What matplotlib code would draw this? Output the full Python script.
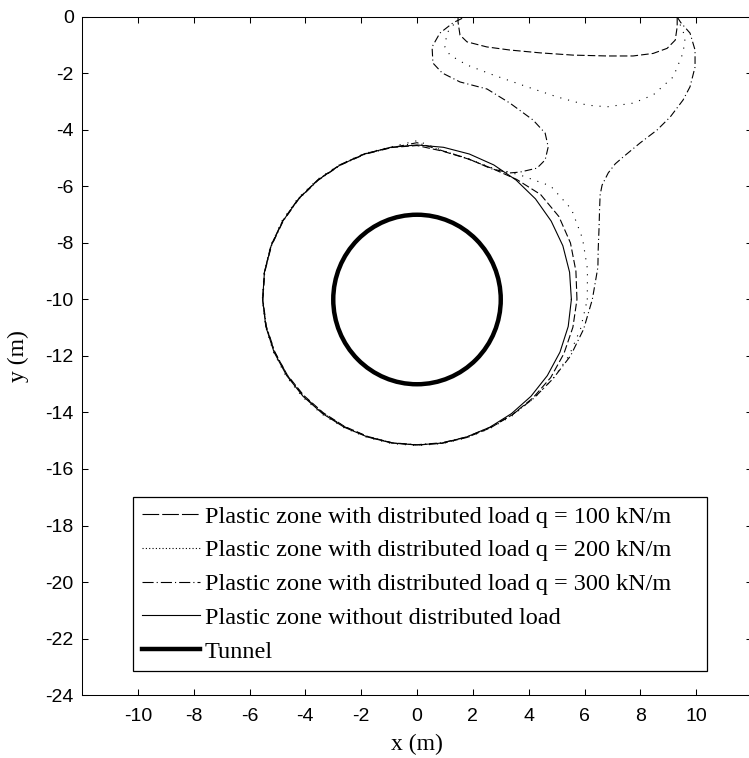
import numpy as np
import matplotlib
matplotlib.use('Agg')
import matplotlib.pyplot as plt
from matplotlib.lines import Line2D
from matplotlib.patches import Circle

plt.rcParams['font.family'] = ['Liberation Sans', 'DejaVu Sans']
plt.rcParams['lines.scale_dashes'] = False
plt.rcParams['axes.unicode_minus'] = False

# tunnel: centre and radius (m)
tunnel_centre = (0.0, -10.0)
tunnel_radius = 3.0

# plastic zone around the tunnel, radius (m) read at every 10 deg around the tunnel centre
angles_deg = list(range(0, 360, 10))
r_noload = [5.53, 5.55, 5.56, 5.55, 5.54, 5.52, 5.50, 5.48, 5.47, 5.47,
            5.47, 5.48, 5.50, 5.52, 5.54, 5.55, 5.56, 5.55, 5.53, 5.50,
            5.45, 5.39, 5.33, 5.27, 5.22, 5.18, 5.16, 5.15, 5.16, 5.18,
            5.22, 5.27, 5.33, 5.39, 5.45, 5.50]
r_q100 = [5.73, 5.78, 5.85, 5.87, 5.78, 5.55, 5.36, 5.30, 5.33, 5.45,
          5.46, 5.49, 5.51, 5.53, 5.55, 5.56, 5.57, 5.55, 5.53, 5.49,
          5.43, 5.36, 5.29, 5.23, 5.19, 5.16, 5.15, 5.15, 5.17, 5.20,
          5.25, 5.32, 5.42, 5.53, 5.60, 5.67]
r_q200 = [6.10, 6.20, 6.31, 6.39, 6.25, 5.75, 5.38, 5.31, 5.35, 5.62,
          5.48, 5.50, 5.52, 5.55, 5.57, 5.58, 5.58, 5.56, 5.54, 5.51,
          5.47, 5.42, 5.36, 5.30, 5.24, 5.20, 5.18, 5.17, 5.18, 5.21,
          5.26, 5.35, 5.45, 5.62, 5.80, 5.95]
r_q300 = [6.28, 6.58, np.nan, np.nan, np.nan, np.nan, 5.34, 5.31, 5.34, 5.55,
          5.45, 5.47, 5.49, 5.51, 5.53, 5.54, 5.55, 5.54, 5.52, 5.48,
          5.42, 5.37, 5.31, 5.25, 5.20, 5.17, 5.15, 5.14, 5.15, 5.18,
          5.23, 5.32, 5.45, 5.62, 5.85, 6.06]

# plastic zones below the loaded ground surface
q100_top_x = [1.47, 1.47, 1.54, 1.79, 2.50, 3.33, 4.41, 5.59, 6.81, 7.74, 8.46, 8.96, 9.25, 9.32, 9.32]
q100_top_y = [0.00, -0.18, -0.64, -0.88, -1.06, -1.17, -1.27, -1.35, -1.38, -1.38, -1.29, -1.11, -0.82, -0.35, 0.00]
q200_top_x = [1.36, 1.36, 1.07, 1.00, 1.18, 1.79, 2.72, 3.94, 5.02, 6.09, 6.81, 7.74, 8.46, 9.18, 9.53, 9.61, 9.43, 9.32]
q200_top_y = [0.00, -0.21, -0.57, -1.06, -1.35, -1.70, -2.05, -2.47, -2.83, -3.12, -3.18, -3.05, -2.76, -2.12, -1.27, -0.71, -0.28, 0.00]

# q = 300: zone joins the tunnel zone
q300_right_x = [9.32, 9.45, 9.78, 9.96, 9.96, 9.78, 9.53, 9.07, 8.60, 7.99, 7.38, 7.10, 6.85, 6.63, 6.56, 6.54, 6.52, 6.49]
q300_right_y = [0.00, -0.20, -0.57, -1.17, -1.77, -2.47, -2.94, -3.54, -4.00, -4.46, -4.96, -5.20, -5.52, -5.95, -6.30, -6.80, -7.50, -8.25]
q300_left_x = [3.33, 3.69, 4.30, 4.59, 4.70, 4.59, 4.16, 3.33, 2.51, 1.54, 0.90, 0.57, 0.54, 0.82, 1.30, 1.72]
q300_left_y = [-5.52, -5.49, -5.35, -5.06, -4.60, -4.11, -3.65, -3.05, -2.55, -2.30, -1.98, -1.63, -1.06, -0.57, -0.20, 0.00]

labels = ['Plastic zone with distributed load q = 100 kN/m',
          'Plastic zone with distributed load q = 200 kN/m',
          'Plastic zone with distributed load q = 300 kN/m',
          'Plastic zone without distributed load',
          'Tunnel']


def polar_xy(radii, closed=True):
    th = np.deg2rad(angles_deg)
    r = np.asarray(radii, dtype=float)
    x = tunnel_centre[0] + r * np.cos(th)
    y = tunnel_centre[1] + r * np.sin(th)
    if closed:
        x = np.append(x, x[0])
        y = np.append(y, y[0])
    return x, y


fig = plt.figure(figsize=(7.49, 7.58), dpi=100)
ax = fig.add_axes([0.1095, 0.0831, 0.8945, 0.8945])

dash = (0, (5.5, 2.2))
dot = (0, (0.8, 5.0))
dashdot = (0, (5.5, 2.2, 0.8, 2.2))
lw = 0.8

# no load
x, y = polar_xy(r_noload)
ax.plot(x, y, color='k', lw=lw)

# q = 100
x, y = polar_xy(r_q100)
ax.plot(x, y, color='k', lw=lw, linestyle=dash)
ax.plot(q100_top_x, q100_top_y, color='k', lw=lw, linestyle=dash)

# q = 200
x, y = polar_xy(r_q200)
ax.plot(x, y, color='k', lw=lw, linestyle=dot)
ax.plot(q200_top_x, q200_top_y, color='k', lw=lw, linestyle=dot)

# q = 300: right arm -> around the tunnel (10 deg down to 60 deg, clockwise) -> left arm
x, y = polar_xy(r_q300, closed=False)
order = [1, 0] + list(range(35, 5, -1))
px = np.concatenate([q300_right_x, x[order], q300_left_x])
py = np.concatenate([q300_right_y, y[order], q300_left_y])
ax.plot(px, py, color='k', lw=lw, linestyle=dashdot)

# tunnel
ax.add_patch(Circle(tunnel_centre, tunnel_radius, fill=False, ec='k', lw=3.2))

ax.set_xlim(-12, 12)
ax.set_ylim(-24, 0)
ax.set_xticks(np.arange(-10, 11, 2))
ax.set_yticks(np.arange(-24, 1, 2))
ax.tick_params(direction='in', length=4.5, width=0.75, top=True, right=True,
               labelsize=14, colors='k')
ax.tick_params(axis='x', pad=9)
ax.tick_params(axis='y', pad=6)
for s in ax.spines.values():
    s.set_linewidth(0.75)

ax.set_xlabel('x (m)', family='Liberation Serif', fontsize=17, labelpad=7)
ax.set_ylabel('y (m)', family='Liberation Serif', fontsize=17, labelpad=12)

handles = [Line2D([], [], color='k', lw=lw, linestyle=(0, (12, 2.2))),
           Line2D([], [], color='k', lw=lw, linestyle=(0, (0.8, 1.6))),
           Line2D([], [], color='k', lw=lw, linestyle=(0, (8, 2.2, 0.8, 2.2))),
           Line2D([], [], color='k', lw=lw),
           Line2D([], [], color='k', lw=3.2)]
leg = ax.legend(handles, labels, loc='lower left', mode='expand',
                bbox_to_anchor=(0.0761, 0.0354, 0.857, 0.252),
                borderaxespad=0, prop={'family': 'Liberation Serif', 'size': 17.5},
                handlelength=2.4, handletextpad=0.2, labelspacing=0.48,
                borderpad=0.35, fancybox=False, framealpha=1)
leg.get_frame().set_edgecolor('k')
leg.get_frame().set_linewidth(0.9)

fig.savefig('out.png', dpi=100)
